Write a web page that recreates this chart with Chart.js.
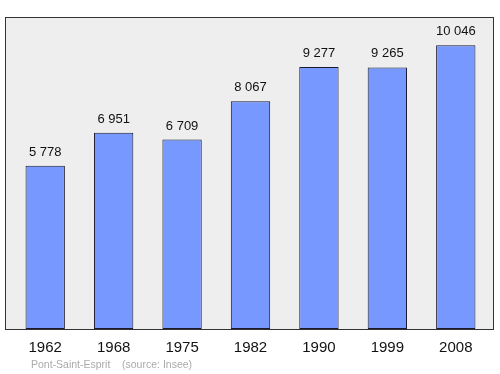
<!DOCTYPE html>
<html>
<head>
<meta charset="utf-8">
<script src="https://cdn.jsdelivr.net/npm/chart.js@4/dist/chart.umd.min.js"></script>
<style>
  html, body { margin:0; padding:0; background:#fff; }
  #wrap { width:500px; height:374px; position:relative; }
</style>
</head>
<body>
<div id="wrap"><canvas id="graf"></canvas></div>
<script>
// Population de Pont-Saint-Esprit (source: Insee)
const annees = ['1962','1968','1975','1982','1990','1999','2008'];
const population = [5778, 6951, 6709, 8067, 9277, 9265, 10046];
const etiquettes = ['5 778','6 951','6 709','8 067','9 277','9 265','10 046'];
const yMax = 11050;

// fond gris + cadre autour de la zone du graphique
const cadre = {
  id: 'cadre',
  beforeDraw (chart) {
    const { ctx, chartArea: a } = chart;
    ctx.save();
    ctx.fillStyle = '#eeeeee';
    ctx.fillRect(a.left - 6, a.top, a.right - a.left + 10, a.bottom - a.top);
    ctx.strokeStyle = '#333';
    ctx.lineWidth = 1;
    ctx.strokeRect(a.left - 5.5, a.top + 0.5, a.right - a.left + 9, a.bottom - a.top);
    ctx.restore();
  },
  afterDraw (chart) {
    const { ctx } = chart;
    ctx.save();
    // valeurs au-dessus des barres
    ctx.font = '13px "Liberation Sans", Arial, sans-serif';
    ctx.fillStyle = '#111';
    ctx.textAlign = 'center';
    ctx.textBaseline = 'alphabetic';
    chart.getDatasetMeta(0).data.forEach((bar, i) => {
      ctx.fillText(etiquettes[i], bar.x, bar.y - 10);
    });
    // source
    ctx.font = '10.5px "Liberation Sans", Arial, sans-serif';
    ctx.fillStyle = '#aaaaaa';
    ctx.textAlign = 'left';
    ctx.fillText('Pont-Saint-Esprit    (source: Insee)', 31, 368);
    ctx.restore();
  }
};

new Chart(document.getElementById('graf'), {
  type: 'bar',
  data: {
    labels: annees,
    datasets: [{
      data: population,
      backgroundColor: '#7799ff',
      borderColor: '#1a1a2e',
      borderWidth: 1,
      borderSkipped: false,
      categoryPercentage: 1,
      barPercentage: 0.575
    }]
  },
  options: {
    responsive: true,
    maintainAspectRatio: false,
    animation: false,
    layout: { padding: { left: 11, right: 10, top: 17, bottom: 0 } },
    plugins: { legend: { display: false }, tooltip: { enabled: false } },
    scales: {
      x: {
        grid: { display: false, drawTicks: false },
        border: { display: false },
        ticks: {
          color: '#111',
          font: { size: 15, family: '"Liberation Sans", Arial, sans-serif' },
          padding: 10
        },
        afterFit (scale) { scale.height = 45; }
      },
      y: { display: false, min: 0, max: yMax }
    }
  },
  plugins: [cadre]
});
</script>
</body>
</html>
